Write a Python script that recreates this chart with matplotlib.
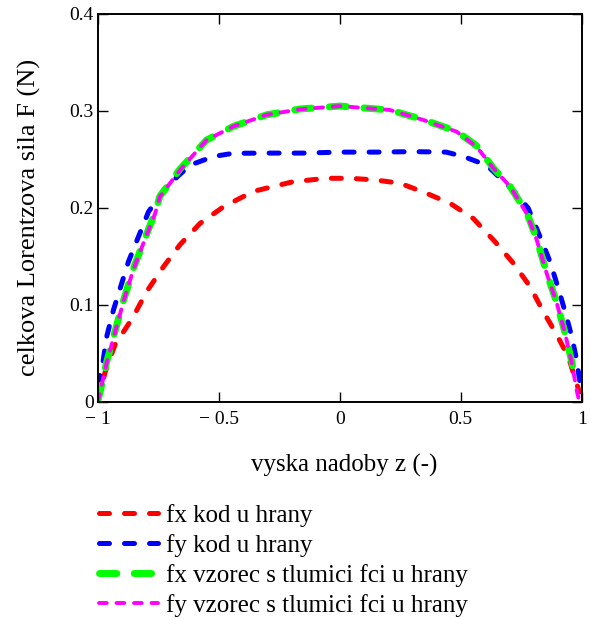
import matplotlib
matplotlib.use("Agg")
import matplotlib.pyplot as plt

plt.rcParams["font.family"] = ["Liberation Serif", "DejaVu Serif"]

# data
z_fx_kod = [-1.0, -0.97, -0.929, -0.853, -0.798, -0.729, -0.66, -0.577, -0.481, -0.357, -0.192,
            -0.054, 0.043, 0.146, 0.249, 0.352, 0.456, 0.552, 0.642, 0.717, 0.786, 0.841,
            0.897, 0.945, 0.99]
f_fx_kod = [0.0, 0.03, 0.0585, 0.0877, 0.1135, 0.139, 0.162, 0.184, 0.201, 0.217, 0.227,
            0.2305, 0.2305, 0.2288, 0.2254, 0.2157, 0.2047, 0.189, 0.165, 0.143, 0.119, 0.093,
            0.069, 0.046, 0.01]

z_fy_kod = [-1.0, -0.977, -0.963, -0.935, -0.873, -0.832, -0.79, -0.715, -0.619, -0.522, -0.44,
            -0.3, -0.15, 0.0, 0.15, 0.3, 0.44, 0.511, 0.607, 0.717, 0.779, 0.828, 0.869,
            0.903, 0.931, 0.959, 0.979, 0.995]
f_fy_kod = [0.017, 0.043, 0.067, 0.0946, 0.1445, 0.170, 0.196, 0.222, 0.244, 0.253, 0.2563,
            0.2565, 0.2565, 0.2575, 0.2575, 0.258, 0.2575, 0.253, 0.244, 0.218, 0.1996, 0.170,
            0.1445, 0.117, 0.093, 0.067, 0.043, 0.0155]

z_fx_vzorec = [-1.0, -0.991, -0.963, -0.928, -0.894, -0.853, -0.812, -0.763, -0.743, -0.66,
               -0.55, -0.44, -0.302, -0.164, 0.0, 0.207, 0.345, 0.483, 0.566, 0.635, 0.704,
               0.773, 0.814, 0.855, 0.897, 0.931, 0.959, 0.975]
f_fx_vzorec = [0.0, 0.009, 0.041, 0.073, 0.104, 0.137, 0.164, 0.195, 0.212, 0.24, 0.27,
               0.284, 0.296, 0.302, 0.305, 0.301, 0.291, 0.279, 0.264, 0.241, 0.222, 0.195,
               0.168, 0.133, 0.102, 0.071, 0.041, 0.02]

z_fy_vzorec = [-1.0, -0.991, -0.963, -0.928, -0.894, -0.853, -0.812, -0.763, -0.743, -0.66,
               -0.55, -0.44, -0.302, -0.164, 0.0, 0.207, 0.345, 0.483, 0.566, 0.635, 0.704,
               0.773, 0.814, 0.855, 0.897, 0.931, 0.959, 0.979, 0.99]
f_fy_vzorec = [0.0, 0.0087, 0.04, 0.072, 0.103, 0.136, 0.163, 0.194, 0.2116, 0.239, 0.27,
               0.284, 0.296, 0.3017, 0.305, 0.301, 0.2907, 0.2786, 0.263, 0.2408, 0.222, 0.194,
               0.1669, 0.1325, 0.1015, 0.0706, 0.04, 0.012, 0.0]

x_ticks = [-1, -0.5, 0, 0.5, 1]
x_tick_labels = ["\u2212 1", "\u2212 0.5", "0", "0.5", "1"]
y_ticks = [0, 0.1, 0.2, 0.3, 0.4]
y_tick_labels = ["0", "0.1", "0.2", "0.3", "0.4"]

fig = plt.figure(figsize=(5.9, 6.19), dpi=100)
ax = fig.add_axes([0.1656, 0.351, 0.8204, 0.6264])

ax.plot(z_fx_kod, f_fx_kod, color="#ff0000", lw=3.6, dashes=(2, 3),
        dash_capstyle="round", label="fx kod u hrany")
ax.plot(z_fy_kod, f_fy_kod, color="#0000ff", lw=3.6, dashes=(2, 3),
        dash_capstyle="round", label="fy kod u hrany")
ax.plot(z_fx_vzorec, f_fx_vzorec, color="#00ff00", lw=5, dashes=(2.5, 2.5),
        dash_capstyle="round", label="fx vzorec s tlumici fci u hrany")
ax.plot(z_fy_vzorec, f_fy_vzorec, color="#ff00ff", lw=2.8, dashes=(2, 2.5),
        dash_capstyle="round", label="fy vzorec s tlumici fci u hrany")

ax.set_xlim(-1, 1)
ax.set_ylim(0, 0.4)
ax.set_xticks(x_ticks)
ax.set_xticklabels(x_tick_labels)
ax.set_yticks(y_ticks)
ax.set_yticklabels(y_tick_labels)
ax.tick_params(axis="both", direction="in", length=7, width=1, labelsize=14,
               top=True, right=True, colors="black")
ax.tick_params(axis="x", pad=7)
ax.tick_params(axis="y", pad=3)
for s in ax.spines.values():
    s.set_linewidth(1.4)

ax.set_xlabel("vyska nadoby z (-)", fontsize=18)
ax.xaxis.set_label_coords(0.509, -0.135)
ax.set_ylabel("celkova Lorentzova sila F (N)", fontsize=19)
ax.yaxis.set_label_coords(-0.117, 0.476)

fig.legend(loc="upper left", bbox_to_anchor=(0.15, 0.202), frameon=False,
           fontsize=18, handlelength=2.36, handletextpad=0.36, labelspacing=0.28,
           borderaxespad=0)

fig.savefig("out.png", dpi=100)
